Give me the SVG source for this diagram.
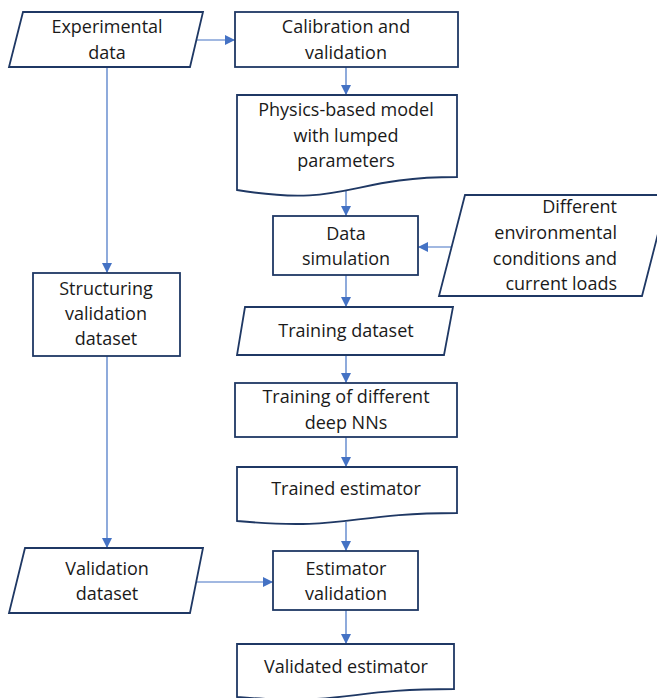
<svg xmlns="http://www.w3.org/2000/svg" width="657" height="698" viewBox="0 0 657 698">
<defs>
<marker id="ah" viewBox="0 0 10 10" refX="10" refY="5" markerWidth="10" markerHeight="10" markerUnits="userSpaceOnUse" orient="auto">
<path d="M0,0 L10,5 L0,10 Z" fill="#4472c4"/>
</marker>
<style>
.n{fill:#ffffff;stroke:#1f3864;stroke-width:1.8}
.t{font-family:"Open Sans","Noto Sans",sans-serif;font-size:18px;fill:#1a1a1a;text-anchor:middle}
.r{text-anchor:end}
.c{fill:none;stroke:#4472c4;stroke-width:1.2;marker-end:url(#ah)}
</style>
</defs>
<rect width="657" height="698" fill="#ffffff"/>
<g id="connectors">
<path class="c" d="M197,40 H235"/>
<path class="c" d="M107,67 V273"/>
<path class="c" d="M346,67 V95"/>
<path class="c" d="M346,191 V216"/>
<path class="c" d="M452,247 H418"/>
<path class="c" d="M346,275 V307"/>
<path class="c" d="M346,355 V383"/>
<path class="c" d="M346,437 V467"/>
<path class="c" d="M346,522 V551"/>
<path class="c" d="M107,356 V548"/>
<path class="c" d="M196,582 H273"/>
<path class="c" d="M346,610 V644"/>
</g>
<g id="experimental-data">
<path class="n" d="M23,12 H203 L190,67 H9 Z"/>
<text class="t" x="107" y="33">Experimental</text>
<text class="t" x="107" y="59">data</text>
</g>
<g id="calibration">
<rect class="n" x="235" y="12" width="223" height="55"/>
<text class="t" x="346" y="33">Calibration and</text>
<text class="t" x="346" y="59">validation</text>
</g>
<g id="physics-model">
<path class="n" d="M237,95 H457 V177 C347,177 347,208 237,190 Z"/>
<text class="t" x="346" y="116">Physics-based model</text>
<text class="t" x="346" y="142">with lumped</text>
<text class="t" x="346" y="167">parameters</text>
</g>
<g id="data-simulation">
<rect class="n" x="273" y="216" width="145" height="59"/>
<text class="t" x="346" y="240">Data</text>
<text class="t" x="346" y="265">simulation</text>
</g>
<g id="environmental-conditions">
<path class="n" d="M465,195 H668 L642,296 H439 Z"/>
<text class="t r" x="617" y="213">Different</text>
<text class="t r" x="617" y="239">environmental</text>
<text class="t r" x="617" y="265">conditions and</text>
<text class="t r" x="617" y="290">current loads</text>
</g>
<g id="structuring">
<rect class="n" x="33" y="273" width="147" height="83"/>
<text class="t" x="106" y="295">Structuring</text>
<text class="t" x="106" y="320">validation</text>
<text class="t" x="106" y="345">dataset</text>
</g>
<g id="training-dataset">
<path class="n" d="M245,307 H453 L444,355 H237 Z"/>
<text class="t" x="346" y="337">Training dataset</text>
</g>
<g id="training-nns">
<rect class="n" x="235" y="383" width="222" height="54"/>
<text class="t" x="346" y="403">Training of different</text>
<text class="t" x="346" y="429">deep NNs</text>
</g>
<g id="trained-estimator">
<path class="n" d="M237,467 H457 V513 C347,513 347,531 237,521 Z"/>
<text class="t" x="346" y="495">Trained estimator</text>
</g>
<g id="validation-dataset">
<path class="n" d="M25,548 H203 L190,613 H9 Z"/>
<text class="t" x="107" y="575">Validation</text>
<text class="t" x="107" y="600">dataset</text>
</g>
<g id="estimator-validation">
<rect class="n" x="273" y="551" width="145" height="59"/>
<text class="t" x="346" y="575">Estimator</text>
<text class="t" x="346" y="600">validation</text>
</g>
<g id="validated-estimator">
<path class="n" d="M237,644 H454 V689 C345,689 345,706 237,697 Z"/>
<text class="t" x="346" y="673">Validated estimator</text>
</g>
</svg>
